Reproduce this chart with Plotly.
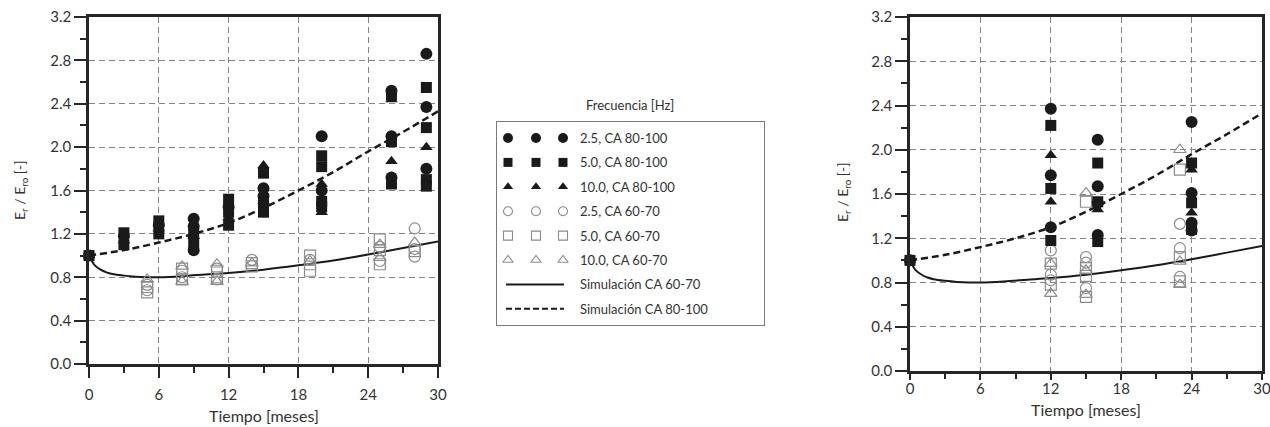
import plotly.graph_objects as go

# ---------------- data ----------------
# Left panel
L_T_C80 = [0, 3, 6, 9, 9, 9, 12, 15, 15, 20, 20, 26, 26, 26, 29, 29, 29]
L_Y_C80 = [1.0, 1.18, 1.28, 1.34, 1.27, 1.05, 1.45, 1.62, 1.55, 2.10, 1.60, 2.52, 2.10, 1.72, 2.86, 2.37, 1.80]
L_T_S80 = [0, 3, 3, 6, 6, 9, 9, 12, 12, 12, 15, 15, 15, 20, 20, 20, 20, 26, 26, 26, 29, 29, 29, 29]
L_Y_S80 = [1.0, 1.10, 1.21, 1.20, 1.32, 1.20, 1.12, 1.52, 1.40, 1.28, 1.76, 1.48, 1.40, 1.92, 1.82, 1.50, 1.45, 2.48, 2.05, 1.66, 2.55, 2.18, 1.70, 1.64]
L_T_T80 = [0, 3, 6, 9, 12, 15, 15, 20, 20, 26, 26, 29]
L_Y_T80 = [1.0, 1.14, 1.25, 1.18, 1.35, 1.83, 1.50, 1.66, 1.40, 2.44, 1.87, 2.00]
L_T_C60 = [5, 5, 8, 8, 11, 11, 14, 19, 25, 25, 28, 28, 28]
L_Y_C60 = [0.73, 0.68, 0.86, 0.80, 0.88, 0.78, 0.96, 0.96, 1.08, 0.95, 1.25, 1.06, 0.99]
L_T_S60 = [5, 5, 8, 8, 11, 11, 14, 14, 19, 19, 19, 25, 25, 25, 28]
L_Y_S60 = [0.66, 0.71, 0.88, 0.78, 0.86, 0.80, 0.90, 0.93, 1.00, 0.92, 0.86, 1.15, 1.05, 0.92, 1.04]
L_T_T60 = [5, 8, 8, 11, 11, 14, 19, 25, 25, 28]
L_Y_T60 = [0.78, 0.90, 0.76, 0.92, 0.76, 0.93, 0.95, 1.10, 0.98, 1.12]

# Right panel
R_T_C80 = [0, 12, 12, 12, 16, 16, 16, 16, 24, 24, 24, 24]
R_Y_C80 = [1.0, 2.37, 1.77, 1.30, 2.09, 1.67, 1.52, 1.23, 2.25, 1.61, 1.34, 1.27]
R_T_S80 = [0, 12, 12, 12, 16, 16, 16, 24, 24, 24]
R_Y_S80 = [1.0, 2.22, 1.65, 1.18, 1.88, 1.53, 1.17, 1.88, 1.52, 1.28]
R_T_T80 = [12, 12, 16, 24, 24]
R_Y_T80 = [1.95, 1.53, 1.46, 1.82, 1.43]
R_T_C60 = [12, 12, 12, 15, 15, 15, 23, 23, 23]
R_Y_C60 = [1.09, 0.87, 0.82, 1.03, 0.98, 0.75, 1.33, 1.11, 0.85]
R_T_S60 = [12, 12, 15, 15, 15, 15, 23, 23, 23]
R_Y_S60 = [0.97, 0.78, 1.53, 0.93, 0.86, 0.67, 1.82, 1.03, 0.81]
R_T_T60 = [12, 12, 15, 15, 15, 23, 23, 23]
R_Y_T60 = [0.97, 0.70, 1.61, 0.91, 0.69, 2.00, 0.99, 0.78]

# Simulation curves (same in both panels)
SIM60_T = [0, 0.25, 0.5, 1, 1.5, 2, 3, 4, 5, 6, 8, 10, 12, 15, 18, 21, 24, 27, 30]
SIM60_Y = [1.0, 0.95, 0.91, 0.87, 0.845, 0.83, 0.815, 0.805, 0.80, 0.80, 0.81, 0.825, 0.84, 0.87, 0.91, 0.955, 1.01, 1.07, 1.13]
SIM80_T = [0, 3, 6, 9, 12, 15, 18, 21, 24, 27, 30]
SIM80_Y = [1.0, 1.05, 1.12, 1.20, 1.30, 1.44, 1.60, 1.77, 1.96, 2.14, 2.33]

LEGEND_LABELS = ["2.5, CA 80-100", "5.0, CA 80-100", "10.0, CA 80-100",
                 "2.5, CA 60-70", "5.0, CA 60-70", "10.0, CA 60-70",
                 "Simulación CA 60-70", "Simulación CA 80-100"]
X_TICKS = [0, 6, 12, 18, 24, 30]
Y_TICKS = [0.0, 0.4, 0.8, 1.2, 1.6, 2.0, 2.4, 2.8, 3.2]

# ---------------- styles ----------------
W, H = 1270, 427
DARK = "#1a1a1a"
GREY = "#8c8c8c"
AXC = "#262626"
TXT = "#333333"
FONT = "Lato"
STYLES = [
    dict(symbol="circle", size=12, color=DARK, line=dict(width=0)),
    dict(symbol="square", size=11, color=DARK, line=dict(width=0)),
    dict(symbol="triangle-up", size=11, color=DARK, line=dict(width=0)),
    dict(symbol="circle-open", size=11, color=GREY, line=dict(width=1.2, color=GREY)),
    dict(symbol="square-open", size=11, color=GREY, line=dict(width=1.2, color=GREY)),
    dict(symbol="triangle-up-open", size=11, color=GREY, line=dict(width=1.2, color=GREY)),
]
LEG_STYLES = [
    dict(symbol="circle", size=10, color=DARK, line=dict(width=0)),
    dict(symbol="square", size=9, color=DARK, line=dict(width=0)),
    dict(symbol="triangle-up", size=9, color=DARK, line=dict(width=0)),
    dict(symbol="circle-open", size=9, color=GREY, line=dict(width=1.1, color=GREY)),
    dict(symbol="square-open", size=9, color=GREY, line=dict(width=1.1, color=GREY)),
    dict(symbol="triangle-up-open", size=9, color=GREY, line=dict(width=1.1, color=GREY)),
]

fig = go.Figure()

panels = [
    ("x", "y", [(L_T_C80, L_Y_C80), (L_T_S80, L_Y_S80), (L_T_T80, L_Y_T80),
                (L_T_C60, L_Y_C60), (L_T_S60, L_Y_S60), (L_T_T60, L_Y_T60)]),
    ("x2", "y2", [(R_T_C80, R_Y_C80), (R_T_S80, R_Y_S80), (R_T_T80, R_Y_T80),
                  (R_T_C60, R_Y_C60), (R_T_S60, R_Y_S60), (R_T_T60, R_Y_T60)]),
]
for xa, ya, series in panels:
    fig.add_trace(go.Scatter(x=SIM60_T, y=SIM60_Y, mode="lines", xaxis=xa, yaxis=ya,
                             line=dict(color=DARK, width=2, shape="spline"), showlegend=False))
    fig.add_trace(go.Scatter(x=SIM80_T, y=SIM80_Y, mode="lines", xaxis=xa, yaxis=ya,
                             line=dict(color=DARK, width=2.5, dash="7px,4px", shape="spline"),
                             showlegend=False))
    order = [3, 4, 5, 0, 1, 2]
    for i in order:
        t, v = series[i]
        fig.add_trace(go.Scatter(x=t, y=v, mode="markers", xaxis=xa, yaxis=ya,
                                 marker=STYLES[i], cliponaxis=False, showlegend=False))

# ---------------- custom legend (three glyphs per row) ----------------
LEG_X0, LEG_X1, LEG_Y0, LEG_Y1 = 497, 764, 122, 325
ROW0, ROWSTEP = 138, 24.4
GLYPH_X = [508, 536, 563]
for k, lab in enumerate(LEGEND_LABELS):
    yrow = ROW0 + k * ROWSTEP
    if k < 6:
        fig.add_trace(go.Scatter(x=GLYPH_X, y=[yrow] * 3, mode="markers", xaxis="x3", yaxis="y3",
                                 marker=LEG_STYLES[k], cliponaxis=False, showlegend=False,
                                 hoverinfo="skip"))
    else:
        fig.add_trace(go.Scatter(x=[506, 564], y=[yrow, yrow], mode="lines", xaxis="x3", yaxis="y3",
                                 line=dict(color=DARK, width=2, dash=("solid" if k == 6 else "6px,3px")),
                                 showlegend=False, hoverinfo="skip"))
    fig.add_annotation(x=578, y=yrow, xref="x3", yref="y3", text=lab, showarrow=False,
                       xanchor="left", yanchor="middle", font=dict(family=FONT, size=13, color=TXT))

fig.add_annotation(x=630 / W, y=1 - 105 / H, xref="paper", yref="paper", text="Frecuencia [Hz]",
                   showarrow=False, xanchor="center", yanchor="middle",
                   font=dict(family=FONT, size=13, color=TXT))


def xaxis(domain, anchor, ticklen, minorlen, standoff):
    return dict(domain=domain, anchor=anchor, range=[0, 30], tickvals=X_TICKS, ticks="outside",
                ticklen=ticklen, tickwidth=2, tickcolor=AXC, showline=True, linewidth=2.5,
                linecolor=AXC, mirror=True, showgrid=True, gridcolor="#858585",
                griddash="6px,4px", gridwidth=1, zeroline=False, ticklabelstandoff=standoff,
                ticklabeloverflow="allow", automargin=False,
                tickfont=dict(family=FONT, size=15, color=TXT),
                minor=dict(dtick=3, tick0=0, ticks="outside", ticklen=minorlen, tickwidth=2,
                           tickcolor=AXC, showgrid=False))


def yaxis(domain, anchor):
    return dict(domain=domain, anchor=anchor, range=[0, 3.2], tickvals=Y_TICKS,
                ticktext=[f"{v:.1f}" for v in Y_TICKS], ticks="outside", ticklen=12,
                tickwidth=2, tickcolor=AXC, showline=True, linewidth=2.5, linecolor=AXC, mirror=True,
                showgrid=True, gridcolor="#858585", griddash="6px,4px", gridwidth=1,
                zeroline=False, automargin=False, ticklabeloverflow="allow",
                tickfont=dict(family=FONT, size=15, color=TXT),
                minor=dict(dtick=0.2, tick0=0, ticks="outside", ticklen=6, tickwidth=2,
                           tickcolor=AXC, showgrid=False))


fig.update_layout(
    width=W, height=H, margin=dict(l=0, r=0, t=0, b=0, pad=0, autoexpand=False),
    paper_bgcolor="white", plot_bgcolor="white", showlegend=False,
    xaxis=xaxis([89 / W, 438 / W], "y", 11, 6, 4),
    yaxis=yaxis([1 - 364 / H, 1 - 17 / H], "x"),
    xaxis2=xaxis([910 / W, 1262 / W], "y2", 6, 5, -4),
    yaxis2=yaxis([1 - 371 / H, 1 - 17 / H], "x2"),
    xaxis3=dict(domain=[LEG_X0 / W, LEG_X1 / W], range=[LEG_X0, LEG_X1], anchor="y3",
                showline=True, mirror=True, linecolor="#7a7a7a", linewidth=1, automargin=False,
                showgrid=False, zeroline=False, showticklabels=False, ticks=""),
    yaxis3=dict(domain=[1 - LEG_Y1 / H, 1 - LEG_Y0 / H], range=[LEG_Y1, LEG_Y0], anchor="x3",
                showline=True, mirror=True, linecolor="#7a7a7a", linewidth=1, automargin=False,
                showgrid=False, zeroline=False, showticklabels=False, ticks=""),
)

# axis titles
for xc, yc in [(263.5, 415), (1086, 409)]:
    fig.add_annotation(x=xc / W, y=1 - yc / H, xref="paper", yref="paper", text="Tiempo [meses]",
                       showarrow=False, xanchor="center", yanchor="middle",
                       font=dict(family=FONT, size=16, color=TXT))
for xc, yc in [(20, 190), (843, 192)]:
    fig.add_annotation(x=xc / W, y=1 - yc / H, xref="paper", yref="paper",
                       text="E<sub>r</sub> / E<sub>ro</sub> [-]", textangle=-90,
                       showarrow=False, xanchor="center", yanchor="middle",
                       font=dict(family=FONT, size=14, color=TXT))

fig.write_html("out.html", config={"displayModeBar": False},
               post_script="document.body.style.margin='0';")
